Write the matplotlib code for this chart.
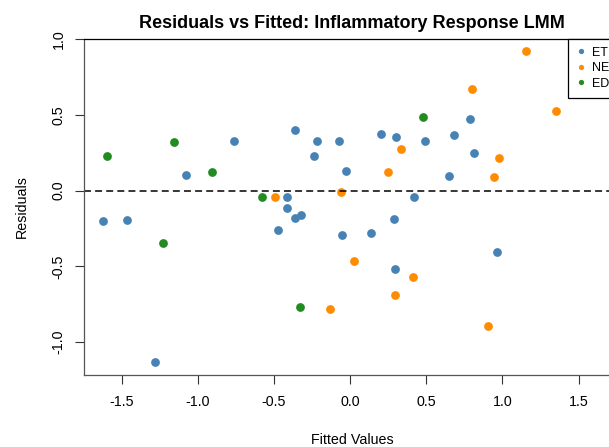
import matplotlib
matplotlib.use("Agg")
import matplotlib.pyplot as plt
from matplotlib.lines import Line2D

plt.rcParams['font.family'] = ['Liberation Sans', 'DejaVu Sans']
plt.rcParams['lines.scale_dashes'] = False

# residuals vs fitted
et_fit = [-1.620, -1.462, -1.079, -0.762, -0.414, -0.416, -0.361, -0.359, -0.320, -0.471,
          -0.219, -0.236, -0.070, -0.024, -0.055, 0.140, 0.206, 0.302, 0.291, 0.298,
          0.418, 0.495, 0.648, 0.681, 0.788, 0.816, 0.963, -1.280]
et_res = [-0.200, -0.196, 0.106, 0.328, -0.044, -0.112, 0.401, -0.180, -0.163, -0.262,
          0.326, 0.229, 0.326, 0.128, -0.291, -0.277, 0.374, 0.355, -0.185, -0.519,
          -0.042, 0.328, 0.099, 0.368, 0.471, 0.247, -0.405, -1.132]

net_fit = [-0.490, -0.059, 0.024, -0.131, 0.295, 0.414, 0.247, 0.337, 0.799, 0.906,
           0.943, 0.978, 1.153, 1.350]
net_res = [-0.042, -0.007, -0.464, -0.781, -0.687, -0.568, 0.126, 0.277, 0.674, -0.894,
           0.090, 0.216, 0.925, 0.526]

ed_fit = [-1.594, -1.156, -1.226, -0.908, -0.578, -0.328, 0.477]
ed_res = [0.229, 0.324, -0.343, 0.126, -0.040, -0.766, 0.489]

groups = ['ET', 'NET', 'ED']
colors = ['steelblue', 'darkorange', 'forestgreen']
xticks = [-1.5, -1.0, -0.5, 0.0, 0.5, 1.0, 1.5]
yticks = [-1.0, -0.5, 0.0, 0.5, 1.0]

W, H = 609, 447
fig = plt.figure(figsize=(W / 100, H / 100), dpi=100)
# plot region runs past the right edge, like the cropped original
ax = fig.add_axes([83.5 / W, 1 - 374.5 / H, (621 - 83.5) / W, (374.5 - 38.8) / H])

for xs, ys, c in zip([et_fit, net_fit, ed_fit], [et_res, net_res, ed_res], colors):
    ax.plot(xs, ys, 'o', color=c, markersize=6.3, markeredgewidth=0, linestyle='none')

ax.axhline(0, color='black', linewidth=1.1, dashes=(5, 3))

ax.set_xlim(-1.750, 1.779)
ax.set_ylim(-1.214, 1.003)
ax.set_xticks(xticks)
ax.set_yticks(yticks)
ax.set_xticklabels([f'{v:.1f}' for v in xticks])
ax.set_yticklabels([f'{v:.1f}' for v in yticks], rotation=90, va='center')
ax.tick_params(direction='out', length=6.8, width=0.8, colors='#333333',
               labelsize=10.3, labelcolor='black')
ax.tick_params(axis='x', pad=8)
ax.tick_params(axis='y', pad=6)
for s in ['left', 'bottom']:
    ax.spines[s].set_color('#555555')
    ax.spines[s].set_linewidth(0.9)
ax.spines['top'].set_color('black')
ax.spines['top'].set_linewidth(0.9)
ax.spines['right'].set_visible(False)

fig.text(352 / W, 1 - 28.5 / H, 'Residuals vs Fitted: Inflammatory Response LMM',
         ha='center', va='baseline', fontsize=13, fontweight='bold')
fig.text(352 / W, 1 - 444 / H, 'Fitted Values', ha='center', va='baseline', fontsize=10.3)
fig.text(22 / W, 1 - 207 / H, 'Residuals', ha='center', va='center', rotation=90, fontsize=10.3)

handles = [Line2D([], [], marker='o', color=c, linestyle='none', markersize=3.8,
                  markeredgewidth=0) for c in colors]
leg = ax.legend(handles, groups, loc='upper left', bbox_to_anchor=(568 / W, 1 - 38.5 / H),
                bbox_transform=fig.transFigure, fontsize=9, frameon=True, fancybox=False,
                framealpha=1, edgecolor='black', borderpad=0.65, handlelength=0.75,
                handletextpad=0.55, labelspacing=0.28, borderaxespad=0)
leg.get_frame().set_linewidth(0.9)

fig.savefig('out.png', dpi=100)
